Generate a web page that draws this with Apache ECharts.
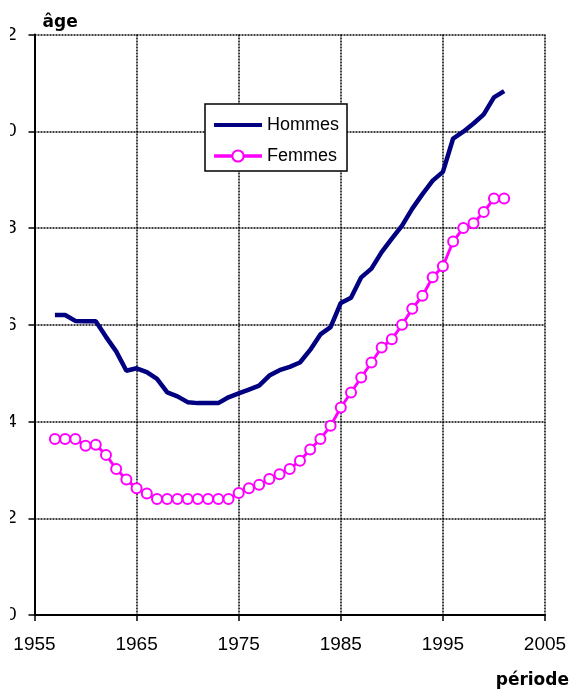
<!DOCTYPE html>
<html>
<head>
<meta charset="utf-8">
<script src="https://cdn.jsdelivr.net/npm/echarts@6/dist/echarts.min.js"></script>
<style>
  html, body { margin: 0; padding: 0; background: #fff; }
  #chart { position: absolute; left: 10px; top: 0; width: 562px; height: 691px; }
</style>
</head>
<body>
<div id="chart"></div>
<script>
// ---- data ----
const years = [1957,1958,1959,1960,1961,1962,1963,1964,1965,1966,1967,1968,1969,1970,1971,1972,1973,1974,1975,1976,1977,1978,1979,1980,1981,1982,1983,1984,1985,1986,1987,1988,1989,1990,1991,1992,1993,1994,1995,1996,1997,1998,1999,2000,2001];
const hommes = [26.20,26.20,26.08,26.07,26.07,25.75,25.45,25.05,25.10,25.02,24.88,24.60,24.52,24.40,24.38,24.38,24.38,24.50,24.58,24.66,24.74,24.95,25.06,25.13,25.22,25.48,25.80,25.95,26.45,26.56,26.98,27.16,27.50,27.78,28.05,28.40,28.70,28.98,29.16,29.85,29.99,30.16,30.35,30.70,30.83];
const femmes = [23.64,23.64,23.64,23.50,23.52,23.31,23.02,22.80,22.62,22.51,22.40,22.40,22.40,22.40,22.40,22.40,22.40,22.40,22.52,22.62,22.69,22.81,22.91,23.02,23.19,23.42,23.64,23.91,24.29,24.60,24.91,25.22,25.53,25.70,26.00,26.33,26.60,26.98,27.21,27.72,28.00,28.10,28.33,28.61,28.61];
const seriesNames = ['Hommes', 'Femmes'];
const xName = 'période';
const yName = 'âge';
const xMin = 1955, xMax = 2005, xStep = 10;
const yMin = 20, yMax = 32, yStep = 2;

const chart = echarts.init(document.getElementById('chart'), null, { renderer: 'canvas' });
const grid = { type: [2, 1], color: '#000', width: 1.5 };

chart.setOption({
  animation: false,
  backgroundColor: '#fff',
  grid: { left: 24.5, right: 27, top: 34.5, bottom: 76, containLabel: false, outerBoundsMode: 'none' },
  legend: {
    data: [
      { name: seriesNames[0], itemStyle: { opacity: 0 }, lineStyle: { width: 4 } },
      { name: seriesNames[1], lineStyle: { width: 3.5 } }
    ],
    orient: 'vertical',
    left: 195, top: 104,
    padding: [11, 8, 5, 7],
    itemGap: 11,
    itemWidth: 48, itemHeight: 14,
    backgroundColor: '#fff',
    borderColor: '#000', borderWidth: 1.5, borderRadius: 0,
    textStyle: { fontFamily: 'Liberation Sans', fontSize: 18, color: '#000', lineHeight: 20 }
  },
  xAxis: {
    type: 'value', min: xMin, max: xMax, interval: xStep,
    name: xName, nameLocation: 'end', nameGap: 24,
    nameTextStyle: { fontFamily: 'DejaVu Sans', fontWeight: 'bold', fontSize: 17, color: '#000',
                     align: 'right', verticalAlign: 'top', padding: [57, 0, 0, 0] },
    axisLine: { show: true, lineStyle: { color: '#000', width: 2 } },
    axisTick: { show: true, inside: false, length: 6, lineStyle: { color: '#000', width: 1.5 } },
    axisLabel: { fontFamily: 'Liberation Sans', fontSize: 19, color: '#000', margin: 20,
                 formatter: v => String(v) },
    splitLine: { show: true, lineStyle: grid }
  },
  yAxis: {
    type: 'value', min: yMin, max: yMax, interval: yStep,
    name: yName, nameLocation: 'end', nameGap: 3,
    nameTextStyle: { fontFamily: 'DejaVu Sans', fontWeight: 'bold', fontSize: 17, color: '#000',
                     align: 'left', padding: [0, 0, 0, 8] },
    axisLine: { show: true, lineStyle: { color: '#000', width: 2 } },
    axisTick: { show: true, inside: false, length: 6, lineStyle: { color: '#000', width: 1.5 } },
    axisLabel: { fontFamily: 'Liberation Sans', fontSize: 19, color: '#000', margin: 18 },
    splitLine: { show: true, lineStyle: grid }
  },
  series: [
    {
      name: seriesNames[0], type: 'line',
      data: years.map((y, i) => [y, hommes[i]]),
      symbol: 'none',
      lineStyle: { color: '#000080', width: 4.5 },
      itemStyle: { color: '#000080' },
      z: 3
    },
    {
      name: seriesNames[1], type: 'line',
      data: years.map((y, i) => [y, femmes[i]]),
      symbol: 'emptyCircle', symbolSize: 10,
      lineStyle: { color: '#FF00FF', width: 3 },
      itemStyle: { color: '#FF00FF', borderColor: '#FF00FF', borderWidth: 2 },
      z: 3
    }
  ]
});
</script>
</body>
</html>
